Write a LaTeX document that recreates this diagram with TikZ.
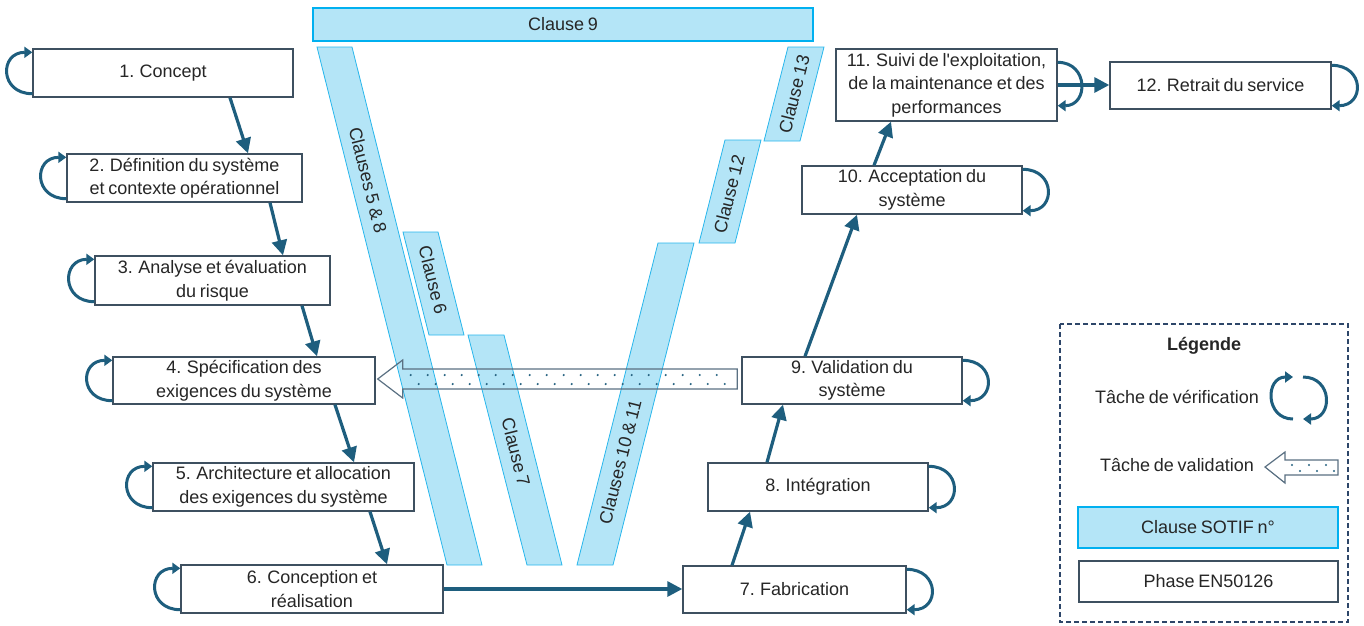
\documentclass[tikz,border=0pt]{standalone}
\usepackage{fontspec}
\setmainfont{Liberation Sans}[WordSpace=0.75]
\usetikzlibrary{arrows.meta,calc}
\definecolor{boxc}{RGB}{62,80,96}
\definecolor{txt}{RGB}{38,38,38}
\definecolor{arr}{RGB}{30,94,126}
\definecolor{bandfill}{RGB}{180,229,247}
\definecolor{bandline}{RGB}{40,182,236}
\definecolor{cyanb}{RGB}{0,176,240}
\definecolor{valc}{RGB}{90,112,130}
\definecolor{dotc}{RGB}{40,100,130}
\definecolor{legc}{RGB}{45,70,105}
\begin{document}
\begin{tikzpicture}[x=1pt,y=-1pt,
  font=\fontsize{18}{23.5}\selectfont, text=txt,
  phase/.style={draw=boxc, line width=1.4pt, fill=white, inner sep=0pt, align=center},
  conn/.style={draw=arr, line width=3.2pt, -{Triangle[length=15pt,width=15pt]}},
  vloop/.style={draw=arr, line width=3pt, -{Triangle[length=8pt,width=11pt]}},
  band/.style={fill=bandfill, draw=bandline, line width=0.8pt},
  bandtxt/.style={inner sep=0pt},
  valarrow/.style={draw=valc, line width=1.2pt, line join=miter},
  vdot/.style={fill=dotc},
]
\useasboundingbox (0,0) rectangle (1364,625);

% ---- SOTIF clause bands
\node[draw=cyanb, fill=bandfill, line width=2.4pt, minimum width=500pt, minimum height=33pt, inner sep=0pt] (c9) at (563,24.5) {Clause 9};
\path[band] (317,47) -- (352,47) -- (482,565) -- (447,565) -- cycle;
\node[bandtxt, rotate=-75.9] (c58) at (368,180) {Clauses 5 \& 8};
\path[band] (403,232) -- (438,232) -- (464,335) -- (429,335) -- cycle;
\node[bandtxt, rotate=-75.9] (c6) at (433,280) {Clause 6};
\path[band] (468,335) -- (504,335) -- (562,565) -- (527,565) -- cycle;
\node[bandtxt, rotate=-75.9] (c7) at (516,452) {Clause 7};
\path[band] (577,565) -- (613,565) -- (694,243) -- (658,243) -- cycle;
\node[bandtxt, rotate=75.9] (c1011) at (620,462) {Clauses 10 \& 11};
\path[band] (699,243) -- (735,243) -- (761,140) -- (725,140) -- cycle;
\node[bandtxt, rotate=75.9] (c12) at (729,194) {Clause 12};
\path[band] (764,141) -- (800,141) -- (824,47) -- (788,47) -- cycle;
\node[bandtxt, rotate=75.9] (c13) at (794,94) {Clause 13};

% ---- EN50126 phases
\node[phase, minimum width=260pt, minimum height=48pt] (b1) at (163,73) {1. Concept};
\node[phase, minimum width=235pt, minimum height=48pt] (b2) at (184.5,178) {2. Définition du système\\et contexte opérationnel};
\node[phase, minimum width=235pt, minimum height=49pt] (b3) at (212.5,280.5) {3. Analyse et évaluation\\du risque};
\node[phase, minimum width=262pt, minimum height=47pt] (b4) at (244,380.5) {4. Spécification des\\exigences du système};
\node[phase, minimum width=261pt, minimum height=48pt] (b5) at (283.5,487) {5. Architecture et allocation\\des exigences du système};
\node[phase, minimum width=262pt, minimum height=48pt] (b6) at (312,589) {6. Conception et\\réalisation};
\node[phase, minimum width=223pt, minimum height=47pt] (b7) at (794.5,589.5) {7. Fabrication};
\node[phase, minimum width=220pt, minimum height=48pt] (b8) at (818,487) {8. Intégration};
\node[phase, minimum width=220pt, minimum height=47pt] (b9) at (852,380.5) {9. Validation du\\système};
\node[phase, minimum width=220pt, minimum height=48pt] (b10) at (912,190) {10. Acceptation du\\système};
\node[phase, minimum width=221pt, minimum height=72pt] (b11) at (946.5,85) {11. Suivi de l\textquotesingle exploitation,\\de la maintenance et des\\performances};
\node[phase, minimum width=221pt, minimum height=47pt] (b12) at (1220.5,85.5) {12. Retrait du service};

% ---- validation task arrow (9 -> 4)
\coordinate (vT) at ([xshift=2pt,yshift=1.5pt]b4.east);
\coordinate (vR) at ([xshift=-4pt,yshift=1.5pt]b9.west);
\draw[valarrow] (vT) -- ($(vT)+(25,-19)$) -- ($(vT)+(25,-10)$) -- ($(vR)+(0,-10)$) -- ($(vR)+(0,10)$)
   -- ($(vT)+(25,10)$) -- ($(vT)+(25,19)$) -- cycle;
\foreach \i in {0,...,18} {
  \fill[vdot] ($(vT)+(33+\i*17,-4)$) circle (1.2pt);
  \fill[vdot] ($(vT)+(41+\i*17,5)$) circle (1.2pt);
}

% ---- phase flow
\draw[conn] ([xshift=67pt]b1.south) -- ([xshift=63.5pt]b2.north);
\draw[conn] ([xshift=85.5pt]b2.south) -- ([xshift=70.5pt]b3.north);
\draw[conn] ([xshift=89.5pt]b3.south) -- ([xshift=73pt]b4.north);
\draw[conn] ([xshift=91pt]b4.south) -- ([xshift=70.5pt]b5.north);
\draw[conn] ([xshift=86.5pt]b5.south) -- ([xshift=75pt]b6.north);
\draw[conn] (b6.east) -- (b6.east -| b7.west);
\draw[conn] ([xshift=-62.5pt]b7.north) -- ([xshift=-68pt]b8.south);
\draw[conn] ([xshift=-51pt]b8.north) -- ([xshift=-69pt]b9.south);
\draw[conn] ([xshift=-47pt]b9.north) -- ([xshift=-55pt]b10.south);
\draw[conn] ([xshift=-38pt]b10.north) -- ([xshift=-55.5pt]b11.south);
\draw[conn] (b11.east) -- (b11.east -| b12.west);

% ---- verification loops
\foreach \b in {b1,b2,b3,b4,b5,b6} {
  \draw[vloop] ([yshift=4pt]\b.south west) .. controls +(-33,0) and +(-33,0) .. ([yshift=-4pt]\b.north west);
}
\foreach \b in {b7,b8,b9,b10,b12} {
  \draw[vloop] ([yshift=-4pt]\b.north east) .. controls +(33,0) and +(33,0) .. ([yshift=4pt]\b.south east);
}
\draw[vloop] ([yshift=-14pt]b11.north east) .. controls +(31,0) and +(31,0) .. ([yshift=16pt]b11.south east);

% ---- legend
\draw[legc, line width=1.2pt, dash pattern=on 5pt off 3pt] (1060,324) rectangle (1348,622);
\node[font=\bfseries\fontsize{18}{22}\selectfont] (lg) at (1204,346) {Légende};
\node (lv) at (1177,397) {Tâche de vérification};
\coordinate (cyc) at (1298,398);
\draw[vloop] ($(cyc)+(-5,21)$) .. controls +(-28,0) and +(-28,0) .. ($(cyc)+(-5,-21)$);
\draw[vloop] ($(cyc)+(5,-21)$) .. controls +(30,0) and +(30,0) .. ($(cyc)+(5,21)$);
\node (lval) at (1177,465) {Tâche de validation};
\coordinate (lT) at (1265,467);
\draw[valarrow, fill=white] (lT) -- ($(lT)+(20,-15)$) -- ($(lT)+(20,-7)$) -- ($(lT)+(73,-7)$) -- ($(lT)+(73,8)$)
   -- ($(lT)+(20,8)$) -- ($(lT)+(20,16)$) -- cycle;
\foreach \i in {0,...,2} {
  \fill[vdot] ($(lT)+(27+\i*17,-2)$) circle (1.2pt);
  \fill[vdot] ($(lT)+(35+\i*17,4)$) circle (1.2pt);
}
\node[phase, draw=cyanb, fill=bandfill, line width=2.4pt, minimum width=260pt, minimum height=41pt] (lc) at (1208,527.5) {Clause SOTIF n°};
\node[phase, minimum width=259pt, minimum height=41pt] (lp) at (1208.5,581.5) {Phase EN50126};
\end{tikzpicture}
\end{document}
